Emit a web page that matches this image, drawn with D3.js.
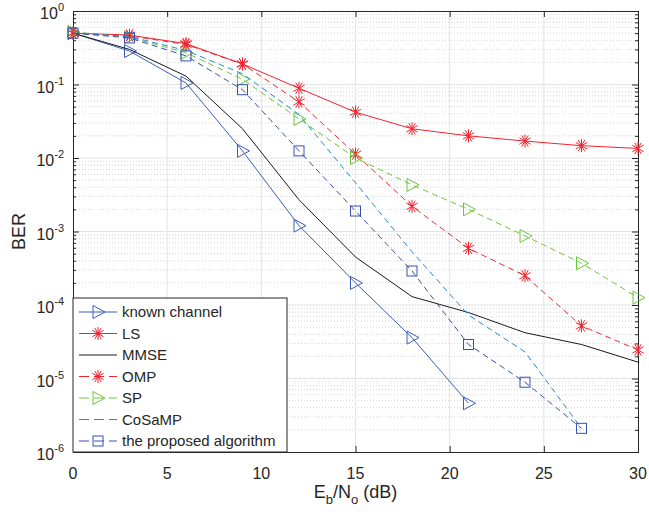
<!DOCTYPE html>
<html>
<head>
<meta charset="utf-8">
<script src="https://cdn.jsdelivr.net/npm/d3@7"></script>
<style>
body { margin: 0; background: #fff; }
text { font-family: "Liberation Sans", Arial, sans-serif; fill: #262626; }
</style>
</head>
<body>
<svg id="chart"></svg>
<script>
var width = 649;
var height = 517;
var margin = {top: 11, right: 11, bottom: 65, left: 73};

// Eb/No points (dB)
var snr = [0, 3, 6, 9, 12, 15, 18, 21, 24, 27, 30];

var knownChannel = [0.5, 0.285, 0.105, 0.0125, 1.2e-3, 2.0e-4, 3.6e-5, 4.6e-6];
var ls = [0.5, 0.47, 0.36, 0.19, 0.089, 0.042, 0.025, 0.02, 0.017, 0.0147, 0.0135];
var mmse = [0.5, 0.3, 0.13, 0.025, 2.7e-3, 4.5e-4, 1.3e-4, 7.9e-5, 4.2e-5, 2.9e-5, 1.67e-5];
var omp = [0.5, 0.46, 0.35, 0.19, 0.058, 0.0113, 2.2e-3, 5.9e-4, 2.5e-4, 5.2e-5, 2.45e-5];
var sp = [0.52, 0.44, 0.27, 0.118, 0.034, 0.01, 4.3e-3, 2.0e-3, 8.7e-4, 3.7e-4, 1.26e-4];
var cosamp = [0.5, 0.45, 0.29, 0.14, 0.039, 4.6e-3, 5.3e-4, 7.3e-5, 2.3e-5, 2.1e-6];
var proposed = [0.5, 0.43, 0.245, 0.085, 0.0125, 1.9e-3, 2.9e-4, 2.9e-5, 8.9e-6, 2.1e-6];

var xTicks = [0, 5, 10, 15, 20, 25, 30];
var yExponents = [0, -1, -2, -3, -4, -5, -6];

var series = [
    {name: "known channel", values: knownChannel, color: "#3b5cbd", dash: null, marker: "tri"},
    {name: "LS", values: ls, color: "#f5222d", dash: null, marker: "star"},
    {name: "MMSE", values: mmse, color: "#1a1a1a", dash: null, marker: null},
    {name: "OMP", values: omp, color: "#f5222d", dash: "6,4", marker: "star"},
    {name: "SP", values: sp, color: "#6cc63a", dash: "6,4", marker: "tri"},
    {name: "CoSaMP", values: cosamp, color: "#1f8bd6", dash: "6,4", marker: null},
    {name: "the proposed algorithm", values: proposed, color: "#3650b4", dash: "6,4", marker: "square"}
];

var svg = d3.select("#chart")
    .attr("width", width)
    .attr("height", height);

var xScale = d3.scaleLinear().domain([0, 30]).range([margin.left, width - margin.right]);
var yScale = d3.scaleLog().domain([1e-6, 1]).range([height - margin.bottom, margin.top]);

var x0 = margin.left, x1 = width - margin.right;
var y0 = height - margin.bottom, y1 = margin.top;

// minor grid (dotted) - horizontal only
var minorVals = [];
for (var e = -6; e < 0; e++) {
    for (var m = 2; m <= 9; m++) minorVals.push(m * Math.pow(10, e));
}
svg.append("g").selectAll("line")
    .data(minorVals).enter().append("line")
    .attr("x1", x0).attr("x2", x1)
    .attr("y1", d => yScale(d)).attr("y2", d => yScale(d))
    .attr("stroke", "#c8c8c8")
    .attr("stroke-width", 0.8)
    .attr("stroke-dasharray", "1,2");

// major grid
svg.append("g").selectAll("line")
    .data(xTicks.slice(1, -1)).enter().append("line")
    .attr("x1", d => xScale(d)).attr("x2", d => xScale(d))
    .attr("y1", y0).attr("y2", y1)
    .attr("stroke", "#e3e3e3").attr("stroke-width", 1);
svg.append("g").selectAll("line")
    .data(yExponents.slice(1, -1)).enter().append("line")
    .attr("x1", x0).attr("x2", x1)
    .attr("y1", d => yScale(Math.pow(10, d))).attr("y2", d => yScale(Math.pow(10, d)))
    .attr("stroke", "#e3e3e3").attr("stroke-width", 1);

// axes box with ticks on all sides
var axisColor = "#262626";
var xAxisB = d3.axisBottom(xScale).tickValues(xTicks).tickSize(-6).tickFormat("");
var xAxisT = d3.axisTop(xScale).tickValues(xTicks).tickSize(-6).tickFormat("");
svg.append("g").attr("transform", "translate(0," + y0 + ")").call(xAxisB);
svg.append("g").attr("transform", "translate(0," + y1 + ")").call(xAxisT);

var majorY = yExponents.map(d => Math.pow(10, d));
var yAxisL = d3.axisLeft(yScale).tickValues(majorY).tickSize(-6).tickFormat("");
var yAxisR = d3.axisRight(yScale).tickValues(majorY).tickSize(-6).tickFormat("");
var yMinL = d3.axisLeft(yScale).tickValues(minorVals).tickSize(-3).tickFormat("");
var yMinR = d3.axisRight(yScale).tickValues(minorVals).tickSize(-3).tickFormat("");
svg.append("g").attr("transform", "translate(" + x0 + ",0)").call(yAxisL);
svg.append("g").attr("transform", "translate(" + x1 + ",0)").call(yAxisR);
svg.append("g").attr("transform", "translate(" + x0 + ",0)").call(yMinL);
svg.append("g").attr("transform", "translate(" + x1 + ",0)").call(yMinR);
svg.selectAll(".domain").attr("stroke", axisColor).attr("stroke-width", 1);
svg.selectAll(".tick line").attr("stroke", axisColor);

// tick labels
svg.append("g").selectAll("text")
    .data(xTicks).enter().append("text")
    .attr("x", d => xScale(d))
    .attr("y", y0 + 27)
    .attr("text-anchor", "middle")
    .attr("font-size", 16)
    .text(d => d);

var yLab = svg.append("g").selectAll("text")
    .data(yExponents).enter().append("text")
    .attr("x", x0 - 9)
    .attr("y", d => yScale(Math.pow(10, d)) + 8)
    .attr("text-anchor", "end")
    .attr("font-size", 16);
yLab.append("tspan").text("10");
yLab.append("tspan").attr("dy", -8).attr("font-size", 11).text(d => d);

// axis titles
svg.append("text")
    .attr("transform", "translate(25," + ((y0 + y1) / 2) + ") rotate(-90)")
    .attr("text-anchor", "middle")
    .attr("font-size", 18)
    .text("BER");

var xt = svg.append("text")
    .attr("x", (x0 + x1) / 2)
    .attr("y", y0 + 46)
    .attr("text-anchor", "middle")
    .attr("font-size", 18);
xt.append("tspan").text("E");
xt.append("tspan").attr("dy", 6).attr("font-size", 13).text("b");
xt.append("tspan").attr("dy", -6).text("/N");
xt.append("tspan").attr("dy", 6).attr("font-size", 13).text("o");
xt.append("tspan").attr("dy", -6).text(" (dB)");

// markers
function drawMarker(g, type, color) {
    if (type === "tri") {
        g.append("path").attr("d", "M-5,-6.5L7,0L-5,6.5Z")
            .attr("fill", "none").attr("stroke", color).attr("stroke-width", 1);
    } else if (type === "square") {
        g.append("rect").attr("x", -5).attr("y", -5).attr("width", 10).attr("height", 10)
            .attr("fill", "none").attr("stroke", color).attr("stroke-width", 1);
    } else if (type === "star") {
        var r = 6.5;
        var p = "M0," + (-r) + "L0," + r +
            "M" + (-r * 0.87) + "," + (-r * 0.5) + "L" + (r * 0.87) + "," + (r * 0.5) +
            "M" + (-r * 0.87) + "," + (r * 0.5) + "L" + (r * 0.87) + "," + (-r * 0.5) +
            "M" + (-r * 0.5) + "," + (-r * 0.87) + "L" + (r * 0.5) + "," + (r * 0.87) +
            "M" + (-r * 0.5) + "," + (r * 0.87) + "L" + (r * 0.5) + "," + (-r * 0.87);
        g.append("path").attr("d", p).attr("fill", "none").attr("stroke", color).attr("stroke-width", 1);
    }
}

var line = d3.line()
    .x((d, i) => xScale(snr[i]))
    .y(d => yScale(d));

var plot = svg.append("g");
series.forEach(function(s) {
    plot.append("path")
        .attr("d", line(s.values))
        .attr("fill", "none")
        .attr("stroke", s.color)
        .attr("stroke-width", 1)
        .attr("stroke-dasharray", s.dash);
    if (s.marker) {
        s.values.forEach(function(v, i) {
            var g = plot.append("g").attr("transform", "translate(" + xScale(snr[i]) + "," + yScale(v) + ")");
            drawMarker(g, s.marker, s.color);
        });
    }
});

// legend
var lx = x0, ly = 298, lw = 214, lh = y0 - 298;
var legend = svg.append("g");
legend.append("rect")
    .attr("x", lx).attr("y", ly).attr("width", lw).attr("height", lh)
    .attr("fill", "#fff").attr("stroke", axisColor).attr("stroke-width", 1);
series.forEach(function(s, i) {
    var yy = ly + 14 + i * 21.5;
    legend.append("line")
        .attr("x1", lx + 6).attr("x2", lx + 44)
        .attr("y1", yy).attr("y2", yy)
        .attr("stroke", s.color).attr("stroke-width", 1)
        .attr("stroke-dasharray", s.dash ? "10,5" : null);
    if (s.marker) {
        var g = legend.append("g").attr("transform", "translate(" + (lx + 25) + "," + yy + ")");
        drawMarker(g, s.marker, s.color);
    }
    legend.append("text")
        .attr("x", lx + 49).attr("y", yy + 5)
        .attr("font-size", 15)
        .text(s.name);
});
</script>
</body>
</html>
